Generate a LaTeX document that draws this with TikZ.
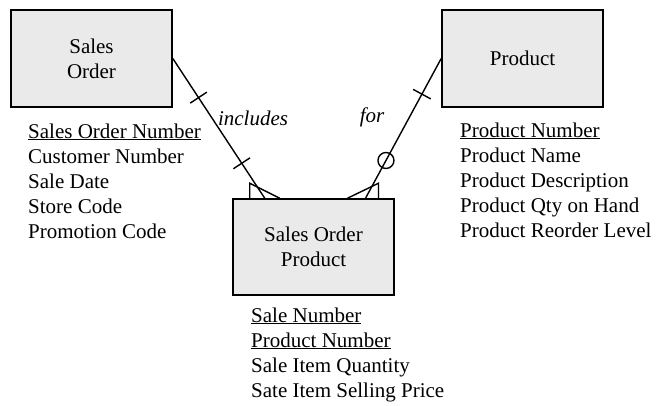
\documentclass[tikz,border=0pt]{standalone}
\usepackage{fontspec}
\setmainfont{Liberation Serif}
\usetikzlibrary{calc}
\definecolor{entityfill}{RGB}{234,234,234}

\begin{document}
\begin{tikzpicture}[x=1pt, y=-1pt,
    entity/.style={draw, line width=1.6pt, fill=entityfill, align=center,
        minimum width=161pt, minimum height=97pt, inner sep=0pt,
        font=\fontsize{21}{25}\selectfont},
    attrs/.style={anchor=base west, inner sep=0pt, font=\fontsize{21}{25}\selectfont},
    rel/.style={line width=1.4pt},
    verb/.style={inner sep=0pt, font=\fontsize{21}{25}\selectfont\itshape}]
    \useasboundingbox (0,0) rectangle (661,405);

    \node [entity] (so) at (91.5, 58.5) {Sales\\Order};
    \node [entity] (prod) at (522.5, 58.5) {Product};
    \node [entity, minimum height=96pt] (sop) at (313.5, 247) {Sales Order\\Product};

    \node [attrs] (soattr) at (28, 138) {\begin{tabular}[t]{@{}l@{}}
        \underline{Sales Order Number}\\ Customer Number\\ Sale Date\\
        Store Code\\ Promotion Code\end{tabular}};
    \node [attrs] (prodattr) at (460, 137) {\begin{tabular}[t]{@{}l@{}}
        \underline{Product Number}\\ Product Name\\ Product Description\\
        Product Qty on Hand\\ Product Reorder Level\end{tabular}};
    \node [attrs] (sopattr) at (251, 322) {\begin{tabular}[t]{@{}l@{}}
        \underline{Sale Number}\\ \underline{Product Number}\\
        Sale Item Quantity\\ Sate Item Selling Price\end{tabular}};

    \coordinate (soend) at ($(sop.north west)!0.2!(sop.north east)$);
    \coordinate (prodend) at ($(sop.north west)!0.82!(sop.north east)$);

    \draw [rel] (so.east) -- (soend);
    \draw [rel] (prod.west) -- (prodend);

    \coordinate (tick1) at ($(so.east)!0.28!(soend)$);
    \coordinate (tick2) at ($(so.east)!0.75!(soend)$);
    \coordinate (tick3) at ($(prod.west)!0.255!(prodend)$);
    \draw [rel] ($(tick1)!10pt!90:(soend)$) -- ($(tick1)!10pt!-90:(soend)$);
    \draw [rel] ($(tick2)!10pt!90:(soend)$) -- ($(tick2)!10pt!-90:(soend)$);
    \draw [rel] ($(tick3)!10pt!90:(prodend)$) -- ($(tick3)!10pt!-90:(prodend)$);
    \draw [rel] ($(prod.west)!0.73!(prodend)$) circle [radius=8pt];

    \draw [rel] (soend) ++(-15,0) -- ++(0,-15) -- ++(30,15);
    \draw [rel] (prodend) ++(13,0) -- ++(0,-15) -- ++(-31,15);

    \node [verb] (incl) at (253, 118) {includes};
    \node [verb] (for) at (372, 117) {for};
\end{tikzpicture}
\end{document}
